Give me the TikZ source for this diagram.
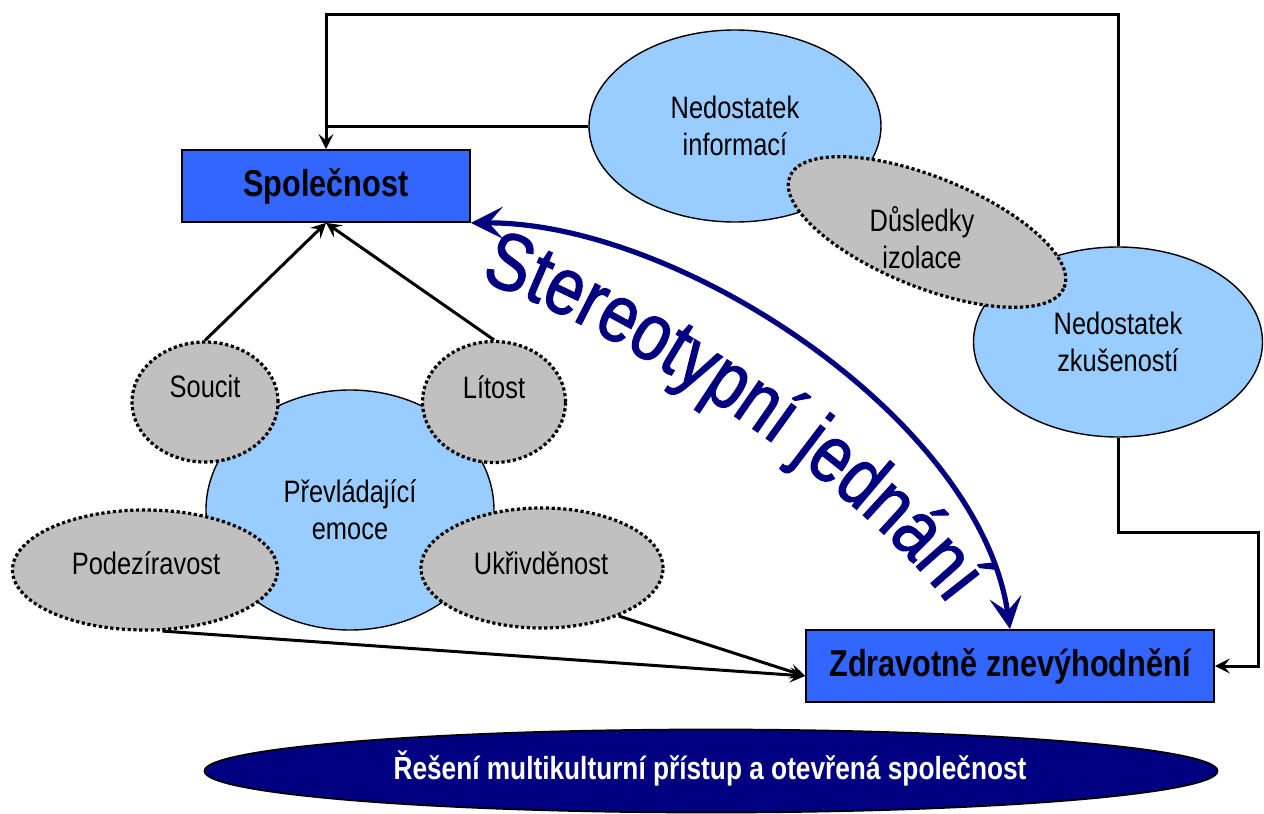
\documentclass[tikz,border=0pt]{standalone}
\usepackage{fontspec}
\setmainfont{Liberation Sans}[FakeStretch=0.82]
\newfontfamily\stereofam{Liberation Sans}[FakeStretch=0.82, FakeBold=1.5]
\usetikzlibrary{arrows.meta,shapes.geometric,decorations.text}
\definecolor{lblue}{HTML}{99CCFF}
\definecolor{lgray}{HTML}{C0C0C0}
\definecolor{boxblue}{HTML}{3366FF}
\definecolor{navyc}{HTML}{000080}
\newcommand\stereofont{\stereofam\fontsize{40.5pt}{46pt}\selectfont}
\begin{document}
\begin{tikzpicture}[x=0.5pt,y=-0.5pt,
  txt/.style={font=\fontsize{15.5pt}{18.5pt}\selectfont, align=center},
  bluebox/.style={rectangle, draw=black, line width=0.9pt, fill=boxblue, minimum width=#1, minimum height=36pt, inner sep=0pt, font=\fontsize{18.7pt}{22pt}\selectfont\bfseries},
  blueell/.style={ellipse, draw=black, line width=0.7pt, fill=lblue, inner sep=0pt, txt},
  grayell/.style={ellipse, draw=black, line width=1.6pt, dash pattern=on 1.6pt off 1.3pt, fill=lgray, inner sep=0pt, txt},
  conn/.style={line width=1.5pt, draw=black},
  tip/.style={-{Stealth[length=7.5pt,width=7.5pt,inset=3pt]}},
  bigtip/.style={{Stealth[length=16pt,width=16pt,inset=7pt]}-{Stealth[length=16pt,width=16pt,inset=7pt]}}
]
\useasboundingbox (0,0) rectangle (1264,814);
\fill[white] (0,0) rectangle (1264,814);

% right cluster
\node[blueell, minimum width=146pt, minimum height=96pt] (ninf) at (735,126) {Nedostatek\\informací};
\node[blueell, minimum width=144.5pt, minimum height=95pt] (nzk) at (1118,342) {Nedostatek\\zkušeností};
\node[grayell, rotate=-22, minimum width=148pt, minimum height=55pt] (dus) at (927,232) {};
\node[txt] (dustext) at (922,238) {Důsledky\\izolace};

% boxes
\node[bluebox=144pt] (spol) at (326,186) {Společnost};
\node[bluebox=204pt] (zdrav) at (1010,666) {Zdravotně znevýhodnění};

% left cluster
\node[blueell, minimum width=144pt, minimum height=120pt] (prev) at (350,510) {Převládající\\emoce};
\node[grayell, minimum width=73pt, minimum height=60pt] (soucit) at (205,402) {};
\node[txt] (soucittext) at (205,386) {Soucit};
\node[grayell, minimum width=71.5pt, minimum height=60.5pt] (litost) at (494,402) {};
\node[txt] (litosttext) at (494,387) {Lítost};
\node[grayell, minimum width=132.5pt, minimum height=60pt] (podez) at (145,570) {};
\node[txt] (podeztext) at (146,563) {Podezíravost};
\node[grayell, minimum width=121pt, minimum height=60pt] (ukriv) at (542,568) {};
\node[txt] (ukrivtext) at (541,563) {Ukřivděnost};

% bottom ellipse
\node[ellipse, draw=black, line width=0.9pt, fill=navyc, minimum width=506.5pt, minimum height=41.5pt, inner sep=0pt] (resen) at (711,771) {};
\node[text=white, font=\fontsize{16pt}{19pt}\selectfont\bfseries] (restxt) at (710,768) {Řešení multikulturní přístup a otevřená společnost};

% connectors
\coordinate (topc) at (0,14);
\coordinate (botc) at (1258,532);
\draw[conn, tip] (nzk.north) -- (nzk.north |- topc) -- (spol.north |- topc) -- (spol.north);
\draw[conn] (ninf.west) -- (ninf.west -| spol.north);
\draw[conn, tip] (nzk.south) -- (nzk.south |- botc) -- (botc) -- (botc |- zdrav.east) -- (zdrav.east);
\draw[conn, tip] (soucit.north) -- (spol.south);
\draw[conn, tip] (litost.north) -- (spol.south);
\draw[conn, tip] (podez.-74) -- ([yshift=-5pt]zdrav.west);
\draw[conn, tip] (ukriv.-32) -- ([yshift=-5pt]zdrav.west);

% big arc
\draw[navyc, line width=2.6pt, bigtip] (spol.south east) .. controls (680,222) and (980,420) .. (zdrav.north);
\path[decorate, decoration={text along path, text={|\stereofont|Stereotypní jednání}, text align=center, text color=navyc}]
  (478,281) .. controls (590,313) and (850,472) .. (950,607);
\end{tikzpicture}
\end{document}
